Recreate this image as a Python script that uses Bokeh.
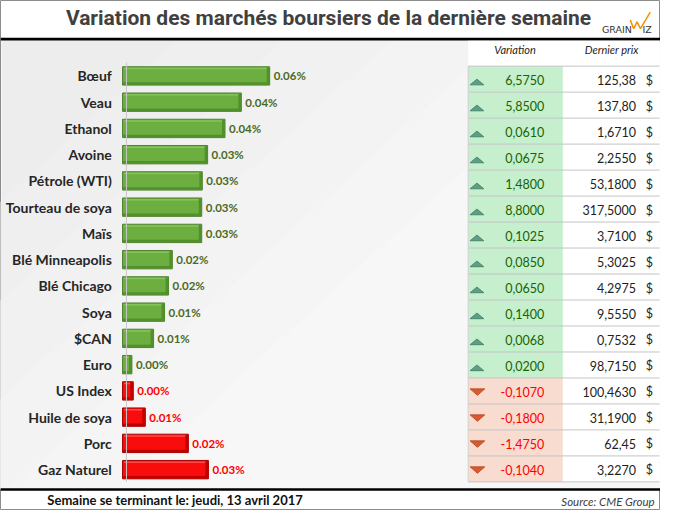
import numpy as np
from bokeh.plotting import figure
from bokeh.models import Range1d, Label
from bokeh.core.properties import value
from bokeh.embed import file_html
from bokeh.resources import INLINE

# ---------------- data ----------------
categories = ["Bœuf", "Veau", "Ethanol", "Avoine", "Pétrole (WTI)", "Tourteau de soya",
              "Maïs", "Blé Minneapolis", "Blé Chicago", "Soya", "$CAN", "Euro",
              "US Index", "Huile de soya", "Porc", "Gaz Naturel"]
pct_change = [0.0550, 0.0444, 0.0383, 0.0318, 0.0298, 0.0296, 0.0296, 0.0186,
              0.0172, 0.0157, 0.0116, 0.0035, 0.0040, 0.0085, 0.0246, 0.0321]
pct_labels = ["0.06%", "0.04%", "0.04%", "0.03%", "0.03%", "0.03%", "0.03%", "0.02%",
              "0.02%", "0.01%", "0.01%", "0.00%", "0.00%", "0.01%", "0.02%", "0.03%"]
variation = [6.5750, 5.8500, 0.0610, 0.0675, 1.4800, 8.8000, 0.1025, 0.0850,
             0.0650, 0.1400, 0.0068, 0.0200, -0.1070, -0.1800, -1.4750, -0.1040]
last_price = ["125,38", "137,80", "1,6710", "2,2550", "53,1800", "317,5000", "3,7100",
              "5,3025", "4,2975", "9,5550", "0,7532", "98,7150", "100,4630", "31,1900",
              "62,45", "3,2270"]

title_text = "Variation des marchés boursiers de la dernière semaine"
footer_text = "Semaine se terminant le: jeudi, 13 avril 2017"
source_text = "Source: CME Group"
col_headers = ["Variation", "Dernier prix"]

# ---------------- layout (reference canvas units) ----------------
W, H = 676, 526
BAR_X0, BAR_SCALE = 125, 2740.0        # bar origin (px) and px per unit of change
ROW0, ROWSTEP = 77.8, 27.07            # bar rows
TROW0, TROWSTEP = 81.1, 26.8           # table rows
FONT = value("Lato")

n = len(categories)
rows = np.arange(n)
up = [v > 0 for v in variation]

p = figure(width=660, height=510, x_range=Range1d(0, W), y_range=Range1d(H, 0),
           x_axis_type=None, y_axis_type=None, output_backend="svg",
           toolbar_location=None, min_border=0)
p.grid.visible = False
p.outline_line_color = "#8c8c8c"
p.background_fill_color = "white"
p.border_fill_color = "white"
p.extra_x_ranges = {"val": Range1d(-BAR_X0 / BAR_SCALE, (W - BAR_X0) / BAR_SCALE)}
p.extra_y_ranges = {"rows": Range1d((H - ROW0) / ROWSTEP, -ROW0 / ROWSTEP),
                    "trows": Range1d((H - TROW0) / TROWSTEP, -TROW0 / TROWSTEP)}

# background of chart body: soft diagonal gradient (darker top-left, lighter bottom-right)
p.quad(left=1, right=675, top=41, bottom=503.5, fill_color="#ededed", line_color=None)
shades = ["#efefef", "#f1f1f1", "#f3f3f3", "#f5f5f5", "#f7f7f7"]
for k, c in enumerate(shades):
    d = 180 + k * 110
    p.patch(x=[d, 676, 676, d - 500], y=[41, 41, 503.5, 503.5], fill_color=c, line_color=None)

# title band / footer lines
p.segment(x0=0, y0=39.8, x1=W, y1=39.8, line_color="black", line_width=2.6)
p.segment(x0=0, y0=504.3, x1=W, y1=504.3, line_color="black", line_width=2.6)

p.add_layout(Label(x=336, y=18, text=title_text, text_align="center",
                   text_baseline="middle", text_font="Roboto",
                   text_font_style="bold", text_font_size="21px", text_color="#404040"))

# logo
p.add_layout(Label(x=616, y=29.5, text="GRAIN", text_align="left", text_baseline="alphabetic",
                   text_font="DejaVu Sans", text_font_size="9.5px", text_color="#333333"))
p.line(x=[645, 648.5, 652, 655.5, 665.5], y=[20, 29, 22, 29, 12], line_color="#f39200",
       line_width=1.5)
p.add_layout(Label(x=657.5, y=29.5, text="IZ", text_align="left", text_baseline="alphabetic",
                   text_font="DejaVu Sans", text_font_size="9.5px", text_color="#333333"))

# ---------------- bars ----------------
body = ["#6cae40" if u else "#f80c0c" for u in up]
edge = ["#4f8330" if u else "#a80000" for u in up]
shade = ["#52902d" if u else "#c00000" for u in up]
light = ["#85c45a" if u else "#ff4a4a" for u in up]
p.hbar(y=rows, left=0, right=pct_change, height=0.70, fill_color=body, line_color=edge,
       line_width=1, x_range_name="val", y_range_name="rows")
# bottom shadow and top highlight for the bevelled look
p.hbar(y=rows + 0.29, left=0.5 / BAR_SCALE, right=[v - 0.5 / BAR_SCALE for v in pct_change],
       height=0.10, fill_color=shade, line_color=None, x_range_name="val", y_range_name="rows")
p.hbar(y=rows - 0.28, left=1.5 / BAR_SCALE, right=[v - 3 / BAR_SCALE for v in pct_change],
       height=0.06, fill_color=light, line_color=None, x_range_name="val", y_range_name="rows")
p.hbar(y=rows, left=[v - 3 / BAR_SCALE for v in pct_change], right=pct_change, height=0.64,
       fill_color=shade, line_color=None, x_range_name="val", y_range_name="rows")
# axis line
p.segment(x0=129, y0=64, x1=129, y1=496.5, line_color="#c8c8c8", line_width=1)

lab_col = ["#4a6a24" if u else "#ff0000" for u in up]
p.text(x=pct_change, y=rows, text=pct_labels, x_offset=4, text_baseline="middle",
       text_align="left", text_font=FONT, text_font_style="bold", text_font_size="11.5px",
       text_color=lab_col, x_range_name="val", y_range_name="rows")
p.text(x=114, y=rows, text=categories, text_align="right", text_baseline="middle",
       text_font=FONT, text_font_style="bold", text_font_size="14px",
       text_color="#262626", y_range_name="rows")

# ---------------- table ----------------
p.quad(left=479, right=675, top=41.5, bottom=67.7, fill_color="white", line_color=None)
var_fill = ["#c6efce" if u else "#f9dcd0" for u in up]
p.rect(x=527.5, y=rows, width=97, height=1, fill_color=var_fill, line_color=None,
       y_range_name="trows")
p.rect(x=625.5, y=rows, width=99, height=1, fill_color="white", line_color=None,
       y_range_name="trows")
bounds = np.arange(n + 1) - 0.5
p.segment(x0=479, x1=675, y0=bounds, y1=bounds, line_color="#c4c4c4", line_width=1,
          y_range_name="trows")
p.segment(x0=479, x1=479, y0=-0.5, y1=n - 0.5, line_color="#d0d0d0", line_width=1,
          y_range_name="trows")

tri_x, tri_y, tri_c, tri_e = [], [], [], []
for i, u in zip(rows, up):
    if u:
        tri_x.append([481, 495, 488]); tri_y.append([i + 0.22, i + 0.22, i - 0.0])
        tri_c.append("#5e9e86"); tri_e.append("#3f7a63")
    else:
        tri_x.append([481, 496, 488.5]); tri_y.append([i - 0.08, i - 0.08, i + 0.17])
        tri_c.append("#d95a30"); tri_e.append("#b4431e")
p.patches(xs=tri_x, ys=tri_y, fill_color=tri_c, line_color=tri_e, line_width=0.8,
          y_range_name="trows")

var_txt = [f"{v:.4f}".replace(".", ",") for v in variation]
var_col = ["#1a6300" if u else "#ff0000" for u in up]
p.text(x=557, y=rows, text=var_txt, y_offset=1, text_align="right", text_baseline="middle",
       text_font=FONT, text_font_size="12.5px", text_color=var_col, y_range_name="trows")
p.text(x=651, y=rows, text=last_price, y_offset=1, text_align="right",
       text_baseline="middle", text_font=FONT, text_font_size="12.5px", text_color="#1e1e1e",
       y_range_name="trows")
p.text(x=664.5, y=rows, text=["$"] * n, y_offset=1, text_align="center",
       text_baseline="middle", text_font=FONT, text_font_size="12.5px", text_color="#1e1e1e",
       y_range_name="trows")

for xh, t in zip([527, 626], col_headers):
    p.add_layout(Label(x=xh, y=51, text=t, text_align="center", text_baseline="middle",
                       text_font="Lato", text_font_style="italic", text_font_size="11px",
                       text_color="#262626"))

# ---------------- footer ----------------
p.add_layout(Label(x=48, y=515.5, text=footer_text, text_align="left", text_baseline="middle",
                   text_font="Lato", text_font_style="bold", text_font_size="13px",
                   text_color="#111111"))
p.add_layout(Label(x=670, y=516.5, text=source_text, text_align="right",
                   text_baseline="middle", text_font="Lato", text_font_style="italic",
                   text_font_size="11.5px", text_color="#404040"))

open("out.html", "w").write(file_html(p, INLINE))
